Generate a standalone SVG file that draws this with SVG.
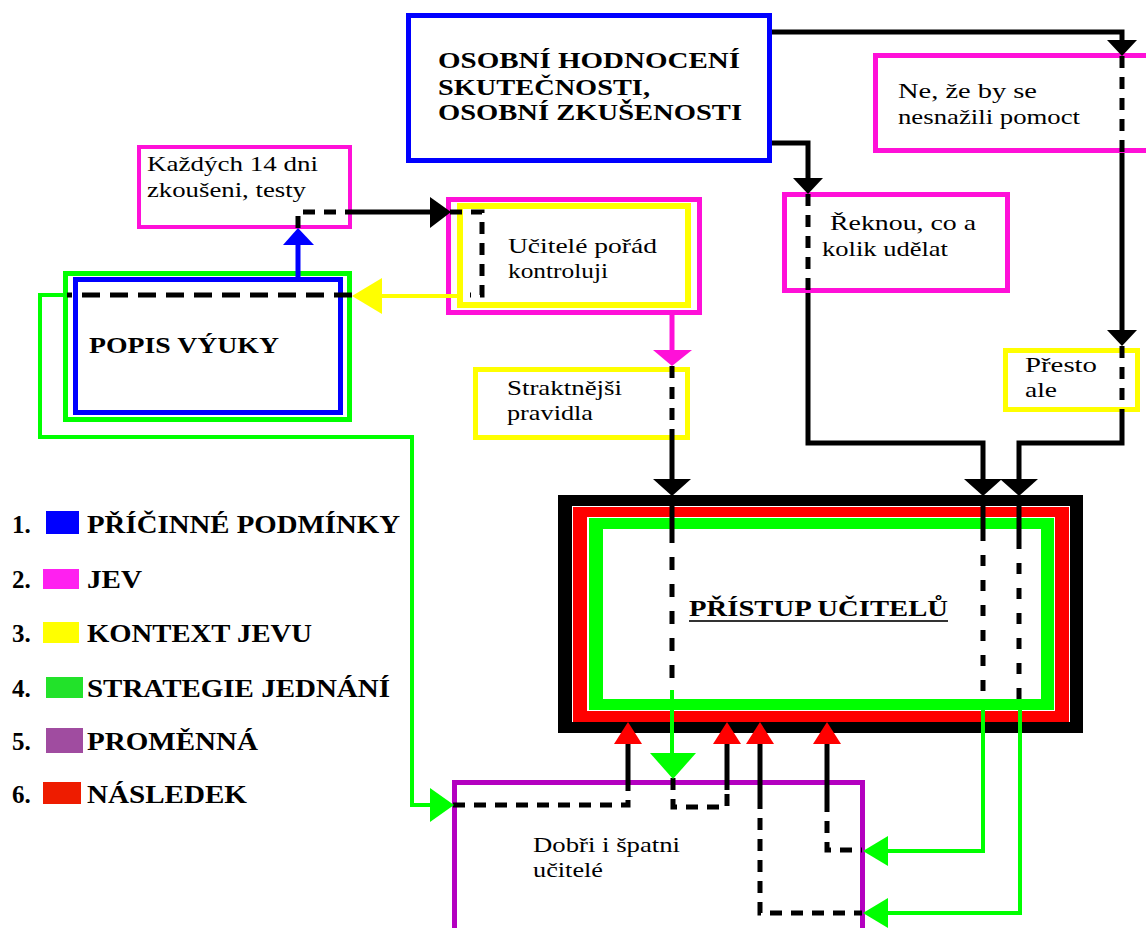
<svg xmlns="http://www.w3.org/2000/svg" width="1146" height="928" viewBox="0 0 1146 928">
<style>
text{font-family:"Liberation Serif","DejaVu Serif","Times New Roman",serif;fill:#000}
.r{font-size:22px}
.h{font-size:23px;font-weight:bold}
.lg{font-size:25px;font-weight:bold}
.mg{fill:#fff;stroke:#ff10d8;stroke-width:5}
.yl{fill:#fff;stroke:#ffff00;stroke-width:5}
.bl{fill:#fff;stroke:#0000ff;stroke-width:5}
.gr{fill:#fff;stroke:#00ff00;stroke-width:5}
.pu{fill:#fff;stroke:#b400c0;stroke-width:5}
.k{fill:none;stroke:#000;stroke-width:5}
.kd{fill:none;stroke:#000;stroke-width:5;stroke-dasharray:12 9}
.g{fill:none;stroke:#00ff00;stroke-width:4}
.bln{fill:none;stroke:#0000ff;stroke-width:5}
.yln{fill:none;stroke:#ffff00;stroke-width:4}
.mln{fill:none;stroke:#ff10d8;stroke-width:5}
.ak{fill:#000}.ag{fill:#00ff00}.ar{fill:#ff0000}.ay{fill:#ffff00}.am{fill:#ff10d8}.ab{fill:#0000ff}
</style>

<g id="osobni" font-family="Liberation Serif, serif">
<rect x="408.5" y="15.5" width="361" height="145" class="bl"/>
<text x="438" y="68" class="h" textLength="302" lengthAdjust="spacingAndGlyphs">OSOBNÍ HODNOCENÍ</text>
<text x="438" y="95" class="h" textLength="212" lengthAdjust="spacingAndGlyphs">SKUTEČNOSTI,</text>
<text x="438" y="120" class="h" textLength="304" lengthAdjust="spacingAndGlyphs">OSOBNÍ ZKUŠENOSTI</text>
</g>

<g id="ne-ze">
<rect x="875.5" y="55.5" width="275" height="95" class="mg"/>
<text x="898" y="98" class="r" textLength="139" lengthAdjust="spacingAndGlyphs">Ne, že by se</text>
<text x="898" y="124" class="r" textLength="182" lengthAdjust="spacingAndGlyphs">nesnažili pomoct</text>
</g>

<g id="kazdych">
<rect x="139" y="147" width="211" height="80" class="mg" style="stroke-width:4"/>
<text x="147" y="171" class="r" textLength="171" lengthAdjust="spacingAndGlyphs">Každých 14 dni</text>
<text x="147" y="197" class="r" textLength="159" lengthAdjust="spacingAndGlyphs">zkoušeni, testy</text>
</g>

<g id="reknou">
<rect x="784.5" y="194.5" width="223" height="96" class="mg"/>
<text x="830" y="230" class="r" textLength="146" lengthAdjust="spacingAndGlyphs">Řeknou, co a</text>
<text x="822" y="256" class="r" textLength="126" lengthAdjust="spacingAndGlyphs">kolik udělat</text>
</g>

<g id="ucitele">
<rect x="448.5" y="199.5" width="251" height="113" class="mg"/>
<rect x="460" y="206" width="228" height="99" class="yl" style="stroke-width:6"/>
<text x="508" y="253" class="r" textLength="149" lengthAdjust="spacingAndGlyphs">Učitelé pořád</text>
<text x="508" y="278" class="r" textLength="100" lengthAdjust="spacingAndGlyphs">kontroluji</text>
</g>

<g id="popis">
<rect x="65.5" y="273.5" width="284" height="146" class="gr"/>
<rect x="75.5" y="279.5" width="265" height="133" class="bl"/>
<text x="89" y="353" class="h" textLength="190" lengthAdjust="spacingAndGlyphs">POPIS VÝUKY</text>
</g>

<g id="straktnejsi">
<rect x="475.5" y="369.5" width="212" height="68" class="yl"/>
<text x="507" y="395" class="r" textLength="115" lengthAdjust="spacingAndGlyphs">Straktnějši</text>
<text x="507" y="420" class="r" textLength="86" lengthAdjust="spacingAndGlyphs">pravidla</text>
</g>

<g id="presto">
<rect x="1005.5" y="350.5" width="132" height="59" class="yl"/>
<text x="1025" y="372" class="r" textLength="72" lengthAdjust="spacingAndGlyphs">Přesto</text>
<text x="1025" y="397" class="r" textLength="32" lengthAdjust="spacingAndGlyphs">ale</text>
</g>

<g id="pristup">
<rect x="558" y="495" width="525" height="238" fill="#000"/>
<rect x="572" y="506" width="498" height="216" fill="#fff"/>
<rect x="573" y="507" width="496" height="215" fill="#ff0000"/>
<rect x="587" y="517" width="468" height="194" fill="#fff"/>
<rect x="589" y="518" width="465" height="192" fill="#00ff00"/>
<rect x="603" y="529" width="438" height="170" fill="#fff"/>
<text x="689" y="616" class="h" textLength="259" lengthAdjust="spacingAndGlyphs">PŘÍSTUP UČITELŮ</text>
<line x1="689" y1="621" x2="948" y2="621" stroke="#333" stroke-width="2"/>
</g>

<g id="dobri">
<rect x="454.5" y="782.5" width="408" height="200" class="pu"/>
<text x="533" y="852" class="r" textLength="147" lengthAdjust="spacingAndGlyphs">Dobři i špatni</text>
<text x="533" y="877" class="r" textLength="70" lengthAdjust="spacingAndGlyphs">učitelé</text>
</g>

<g id="legend">
<text x="12" y="533" class="lg">1.</text>
<rect x="46" y="511" width="33" height="23" fill="#0000ff"/>
<text x="87" y="533" class="lg" textLength="313" lengthAdjust="spacingAndGlyphs">PŘÍČINNÉ PODMÍNKY</text>
<text x="12" y="588" class="lg">2.</text>
<rect x="43" y="569" width="36" height="20" fill="#ff20f0"/>
<text x="87" y="588" class="lg" textLength="55" lengthAdjust="spacingAndGlyphs">JEV</text>
<text x="12" y="642" class="lg">3.</text>
<rect x="43" y="622" width="36" height="21" fill="#ffff00"/>
<text x="87" y="642" class="lg" textLength="225" lengthAdjust="spacingAndGlyphs">KONTEXT JEVU</text>
<text x="12" y="697" class="lg">4.</text>
<rect x="46" y="677" width="37" height="21" fill="#22e22a"/>
<text x="87" y="697" class="lg" textLength="303" lengthAdjust="spacingAndGlyphs">STRATEGIE JEDNÁNÍ</text>
<text x="12" y="750" class="lg">5.</text>
<rect x="46" y="728" width="37" height="25" fill="#a04ca0"/>
<text x="87" y="750" class="lg" textLength="171" lengthAdjust="spacingAndGlyphs">PROMĚNNÁ</text>
<text x="12" y="803" class="lg">6.</text>
<rect x="43" y="782" width="38" height="22" fill="#ee1c00"/>
<text x="87" y="803" class="lg" textLength="160" lengthAdjust="spacingAndGlyphs">NÁSLEDEK</text>
</g>

<g id="connectors">
<path class="k" d="M772,32 H1122 V41"/>
<path class="kd" d="M1122,56 V153"/>
<path class="k" d="M1122,153 V331"/>
<path class="kd" d="M1122,346 V412"/>
<path class="k" d="M1122,412 V443 H1019 V481"/>
<path class="k" d="M1019,495 V538"/>
<path class="kd" d="M1019,538 V702" style="stroke-dasharray:11 14"/>
<path class="g" d="M1020,702 V913 H887"/>

<path class="k" d="M772,143 H808 V179"/>
<path class="kd" d="M808,194 V293"/>
<path class="k" d="M808,293 V443 H983 V481"/>
<path class="k" d="M983,495 V530"/>
<path class="kd" d="M983,530 V703" style="stroke-dasharray:11 14"/>
<path class="g" d="M983,703 V851 H887"/>

<path class="mln" d="M672,315 V351"/>
<path class="kd" d="M672,366 V440"/>
<path class="k" d="M672,440 V481"/>
<path class="k" d="M672,495 V530"/>
<path class="kd" d="M672,530 V690" style="stroke-dasharray:13 14"/>
<path class="g" d="M672,690 V754"/>

<path class="bln" d="M298,277 V244"/>
<path class="kd" d="M298,228 V212 H347"/>
<path class="k" d="M347,212 H431"/>
<path class="kd" d="M450,212 H482 V295 H470"/>
<path class="yln" d="M458,296 H381"/>
<path class="kd" d="M352,295 H67" style="stroke-dasharray:18 10"/>
<path class="g" d="M67,295 H40 V437 H412 V805 H431"/>

<path class="kd" d="M453,805 H628 V788"/>
<path class="k" d="M628,788 V744"/>
<path class="kd" d="M673,778 V807 H727 V790"/>
<path class="k" d="M727,790 V744"/>
<path class="k" d="M760,744 V797"/>
<path class="kd" d="M760,797 V913 H862"/>
<path class="k" d="M827,744 V800"/>
<path class="kd" d="M827,800 V850 H862"/>

<polygon class="ak" points="1107,40 1137,40 1122,56"/>
<polygon class="ak" points="793,178 823,178 808,194"/>
<polygon class="ak" points="1107,330 1137,330 1122,346"/>
<polygon class="ak" points="653,479 691,479 672,496"/>
<polygon class="ak" points="964,479 1002,479 983,496"/>
<polygon class="ak" points="1000,479 1038,479 1019,496"/>
<polygon class="ak" points="430,197 430,228 451,212"/>
<polygon class="ab" points="283,245 314,245 298,228"/>
<polygon class="ay" points="382,278 382,314 352,296"/>
<polygon class="am" points="653,350 692,350 672,366"/>
<polygon class="ag" points="430,788 430,822 454,805"/>
<polygon class="ag" points="888,836 888,866 863,851"/>
<polygon class="ag" points="888,898 888,928 863,913"/>
<polygon class="ag" points="650,753 696,753 673,779"/>
<polygon class="ar" points="614,744 642,744 628,722"/>
<polygon class="ar" points="713,744 741,744 727,722"/>
<polygon class="ar" points="746,744 774,744 760,722"/>
<polygon class="ar" points="813,744 841,744 827,722"/>
</g>
</svg>
